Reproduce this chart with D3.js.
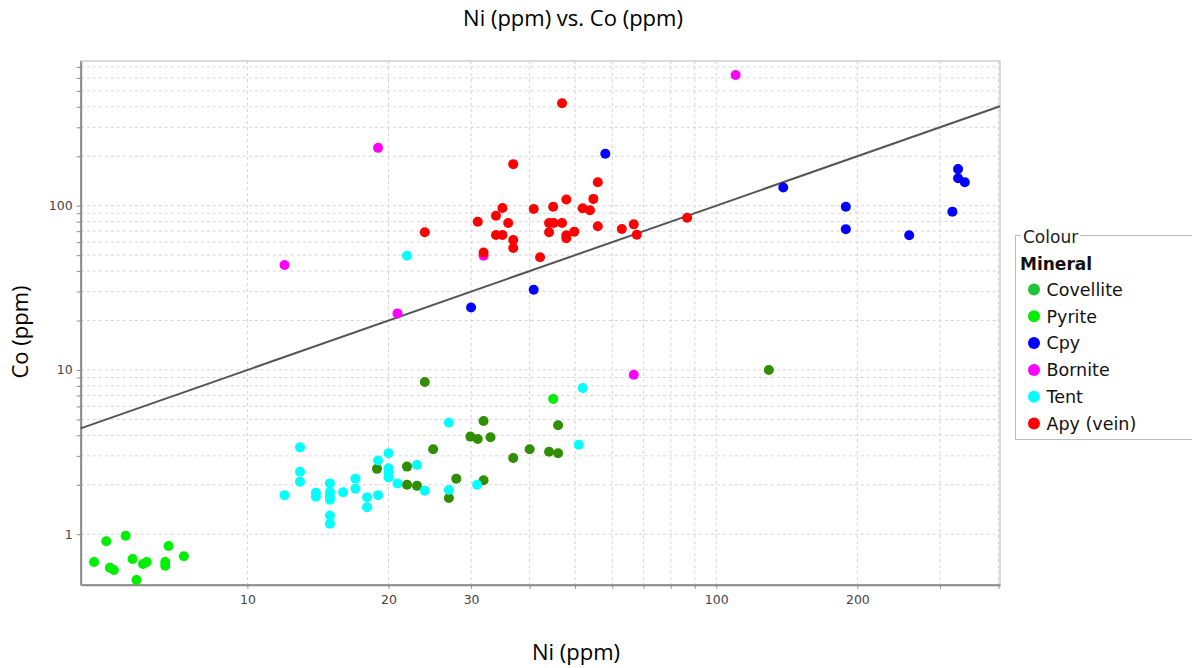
<!DOCTYPE html>
<html>
<head>
<meta charset="utf-8">
<script src="https://cdn.jsdelivr.net/npm/d3@7"></script>
<style>
  body { margin: 0; background: #fff; }
  svg { display: block; }
</style>
</head>
<body>
<svg id="chart" width="1192" height="668"></svg>
<script>
// Ni vs Co concentrations (ppm) grouped by mineral
const minerals = ["Covellite", "Pyrite", "Cpy", "Bornite", "Tent", "Apy (vein)"];
const pointColors = ["#2f8f00", "#00ee00", "#0000ff", "#ff00ff", "#00ffff", "#ff0000"];
const legendColors = ["#1fc43a", "#00ee00", "#0000ff", "#ff00ff", "#00ffff", "#ff0000"];

const covelliteNi = [24.9, 21.9, 21.9, 23.0, 26.9, 27.9, 29.9, 31.0, 33.0, 31.9, 31.9, 36.9, 40.0, 44.0, 46.0, 46.0, 23.9, 129.5, 18.9];
const covelliteCo = [3.29, 2.58, 2.0, 1.97, 1.66, 2.18, 3.93, 3.80, 3.89, 2.13, 4.89, 2.91, 3.29, 3.18, 3.11, 4.61, 8.45, 10.0, 2.5];

const pyriteNi = [4.71, 5.0, 5.09, 5.19, 5.5, 5.69, 5.8, 5.99, 6.1, 6.68, 6.68, 6.79, 7.32, 44.9];
const pyriteCo = [0.678, 0.906, 0.626, 0.606, 0.98, 0.707, 0.527, 0.659, 0.678, 0.678, 0.644, 0.849, 0.735, 6.66];

const cpyNi = [58, 30, 40.8, 139, 189, 189, 258, 319, 328, 328, 339];
const cpyCo = [207, 24, 30.8, 129, 98.6, 72, 66, 92, 167, 147, 139];

const borniteNi = [110, 19, 12, 20.9, 31.9, 66.7];
const borniteCo = [625, 225, 43.6, 22.1, 49.6, 9.36];

const tentNi = [12.0, 12.95, 12.95, 12.95, 14.0, 14.0, 15.0, 15.0, 15.0, 15.0, 15.0, 15.0, 16.0, 17.0, 17.0, 18.0, 18.0, 19.0, 19.0, 20.0, 20.0, 20.0, 20.0, 20.9, 23.0, 23.9, 26.9, 26.9, 30.9, 50.9, 51.9, 21.9];
const tentCo = [1.73, 3.38, 2.40, 2.09, 1.79, 1.69, 2.04, 1.81, 1.71, 1.62, 1.30, 1.16, 1.80, 2.18, 1.89, 1.68, 1.46, 2.81, 1.73, 3.11, 2.52, 2.37, 2.22, 2.04, 2.64, 1.84, 1.86, 4.78, 2.0, 3.51, 7.77, 49.6];

const apyNi = [46.9, 36.9, 55.9, 54.7, 47.9, 51.9, 53.8, 44.9, 40.8, 35.0, 33.9, 31.0, 36.0, 23.9, 44.0, 45.0, 46.9, 55.9, 62.9, 66.7, 67.7, 86.7, 44.0, 49.8, 47.9, 47.9, 33.9, 35.0, 36.9, 36.9, 31.9, 42.1];
const apyCo = [420, 179, 139, 110, 109, 96.4, 93.8, 98.6, 95.5, 96.8, 86.9, 79.9, 78.5, 68.9, 78.5, 78.5, 78.5, 74.9, 72.1, 77.0, 66.6, 84.5, 68.9, 69.5, 66.0, 63.4, 66.3, 66.3, 61.8, 55.3, 51.8, 48.5];

const niSeries = [covelliteNi, pyriteNi, cpyNi, borniteNi, tentNi, apyNi];
const coSeries = [covelliteCo, pyriteCo, cpyCo, borniteCo, tentCo, apyCo];

// Axis domains, grid and tick labels
const xDomain = [4.41, 403];
const yDomain = [0.493, 760];
const xGrid = [10, 20, 30, 40, 50, 60, 70, 80, 90, 100, 200, 300, 400];
const xLabels = [10, 20, 30, 100, 200];
const yGrid = [1, 2, 3, 4, 5, 6, 7, 8, 9, 10, 20, 30, 40, 50, 60, 70, 80, 90, 100, 200, 300, 400, 500, 600, 700];
const yLabels = [1, 10, 100];

const plot = { left: 80.7, right: 1000, top: 61, bottom: 584.7 };

const svg = d3.select("#chart");
const x = d3.scaleLog().domain(xDomain).range([plot.left, plot.right]);
const y = d3.scaleLog().domain(yDomain).range([plot.bottom, plot.top]);

// frame
svg.append("rect")
  .attr("x", plot.left).attr("y", plot.top)
  .attr("width", plot.right - plot.left).attr("height", plot.bottom - plot.top)
  .attr("fill", "#fff").attr("stroke", "#cfcfcf").attr("stroke-width", 1.5);

// grid
const grid = svg.append("g").attr("stroke", "#d4d4d4").attr("stroke-width", 1)
  .attr("stroke-dasharray", "3,3");
grid.selectAll("line.gx").data(xGrid.filter(v => v < xDomain[1])).join("line")
  .attr("x1", d => x(d)).attr("x2", d => x(d))
  .attr("y1", plot.top).attr("y2", plot.bottom);
grid.selectAll("line.gy").data(yGrid).join("line")
  .attr("x1", plot.left).attr("x2", plot.right)
  .attr("y1", d => y(d)).attr("y2", d => y(d));

// axes
const xAxis = d3.axisBottom(x).tickValues(xGrid).tickSize(4).tickSizeOuter(0)
  .tickFormat(d => xLabels.includes(d) ? d : "");
const yAxis = d3.axisLeft(y).tickValues(yGrid).tickSize(4).tickSizeOuter(0)
  .tickFormat(d => yLabels.includes(d) ? d : "");

const gx = svg.append("g").attr("transform", `translate(0,${plot.bottom})`).call(xAxis);
const gy = svg.append("g").attr("transform", `translate(${plot.left},0)`).call(yAxis);
[gx, gy].forEach(g => {
  g.select(".domain").attr("stroke", "#8a8a8a").attr("stroke-width", 2);
  g.selectAll(".tick line").attr("stroke", "#8a8a8a");
  g.selectAll(".tick text").attr("fill", "#444")
    .style("font-family", "'DejaVu Sans', sans-serif").style("font-size", "12.5px");
});
gx.selectAll(".tick text").attr("dy", "0.95em");
gy.selectAll(".tick text").attr("x", -8);

// reference line Co = Ni
svg.append("line")
  .attr("x1", x(xDomain[0])).attr("y1", y(xDomain[0]))
  .attr("x2", x(xDomain[1])).attr("y2", y(xDomain[1]))
  .attr("stroke", "#555").attr("stroke-width", 2);

// points
minerals.forEach((m, i) => {
  const pts = niSeries[i].map((ni, j) => ({ ni, co: coSeries[i][j] }));
  svg.append("g").selectAll("circle").data(pts).join("circle")
    .attr("cx", d => x(d.ni)).attr("cy", d => y(d.co)).attr("r", 5)
    .attr("fill", pointColors[i]);
});

// titles
const textFont = "'Open Sans', sans-serif";
svg.append("text").attr("x", 573).attr("y", 26).attr("text-anchor", "middle")
  .style("font-family", textFont).style("font-size", "22px").attr("fill", "#000")
  .text("Ni (ppm) vs. Co (ppm)");
svg.append("text").attr("x", 576).attr("y", 660).attr("text-anchor", "middle")
  .style("font-family", textFont).style("font-size", "22px").attr("fill", "#000")
  .text("Ni (ppm)");
svg.append("text").attr("transform", "translate(28,332) rotate(-90)").attr("text-anchor", "middle")
  .style("font-family", textFont).style("font-size", "22px").attr("fill", "#000")
  .text("Co (ppm)");

// legend
const lg = svg.append("g");
const legendFont = "'DejaVu Sans', sans-serif";
lg.append("rect").attr("x", 1015.5).attr("y", 235.5).attr("width", 200).attr("height", 204)
  .attr("fill", "#fff").attr("stroke", "#bbb");
const lt = lg.append("text").attr("x", 1023).attr("y", 237).attr("dy", "0.36em")
  .style("font-family", legendFont).style("font-size", "17px").attr("fill", "#222")
  .text("Colour");
const bb = lt.node().getBBox();
lg.insert("rect", "text").attr("x", bb.x - 2).attr("y", 231).attr("width", bb.width + 4).attr("height", 10)
  .attr("fill", "#fff");
lg.append("text").attr("x", 1020).attr("y", 263.5).attr("dy", "0.36em")
  .style("font-family", legendFont).style("font-size", "17px").style("font-weight", "bold")
  .attr("fill", "#111").text("Mineral");
const items = lg.selectAll("g.item").data(minerals).join("g")
  .attr("transform", (d, i) => `translate(0,${289.5 + i * 26.8})`);
items.append("circle").attr("cx", 1034).attr("cy", 0).attr("r", 6)
  .attr("fill", (d, i) => legendColors[i]);
items.append("text").attr("x", 1046.5).attr("y", 0).attr("dy", "0.36em")
  .style("font-family", legendFont).style("font-size", "17.5px").attr("fill", "#111")
  .text(d => d);
</script>
</body>
</html>
